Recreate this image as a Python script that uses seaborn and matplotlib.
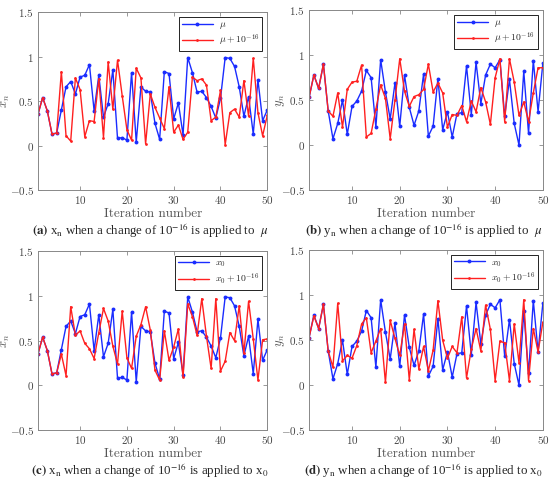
import numpy as np
import pandas as pd
import matplotlib
matplotlib.use("Agg")
import matplotlib.pyplot as plt
import seaborn as sns
from matplotlib.ticker import FuncFormatter

# iteration index 1..50
iterations = list(range(1, 51))

# x_n, unperturbed trajectory (same in panels a and c)
x_base = [0.35, 0.54, 0.39, 0.13, 0.14, 0.40, 0.66, 0.72, 0.58, 0.77,
          0.79, 0.91, 0.39, 0.79, 0.32, 0.47, 0.85, 0.08, 0.09, 0.06,
          0.82, 0.04, 0.66, 0.61, 0.60, 0.25, 0.07, 0.83, 0.81, 0.30,
          0.48, 0.12, 0.99, 0.82, 0.60, 0.61, 0.54, 0.44, 0.31, 0.53,
          0.99, 0.98, 0.89, 0.66, 0.33, 0.55, 0.13, 0.74, 0.28, 0.40]
# x_n when mu + 1e-16
x_mu = [0.35, 0.54, 0.39, 0.13, 0.14, 0.83, 0.11, 0.05, 0.76, 0.63,
        0.10, 0.28, 0.27, 0.75, 0.09, 0.94, 0.41, 0.96, 0.56, 0.18,
        0.06, 0.87, 0.76, 0.02, 0.58, 0.43, 0.31, 0.19, 0.66, 0.15,
        0.23, 0.07, 0.15, 0.77, 0.73, 0.75, 0.68, 0.28, 0.32, 0.62,
        0.01, 0.37, 0.41, 0.32, 0.73, 0.33, 0.98, 0.37, 0.11, 0.34]
# x_n when x0 + 1e-16
x_x0 = [0.35, 0.54, 0.39, 0.13, 0.14, 0.35, 0.11, 0.88, 0.56, 0.61,
        0.47, 0.41, 0.30, 0.59, 0.86, 0.72, 0.44, 0.24, 0.83, 0.31,
        0.19, 0.55, 0.68, 0.88, 0.62, 0.17, 0.06, 0.61, 0.28, 0.43,
        0.63, 0.09, 0.91, 0.77, 0.56, 0.97, 0.55, 0.19, 0.97, 0.16,
        0.27, 0.59, 0.50, 0.89, 0.36, 0.94, 0.52, 0.06, 0.51, 0.52]

# y_n, unperturbed trajectory (same in panels b and d)
y_base = [0.53, 0.78, 0.63, 0.90, 0.38, 0.07, 0.24, 0.50, 0.12, 0.43,
          0.49, 0.60, 0.83, 0.75, 0.20, 0.95, 0.59, 0.29, 0.69, 0.21,
          0.78, 0.42, 0.22, 0.38, 0.79, 0.10, 0.21, 0.74, 0.17, 0.37,
          0.09, 0.35, 0.36, 0.88, 0.34, 0.92, 0.46, 0.78, 0.90, 0.86,
          0.95, 0.32, 0.73, 0.24, 0.00, 0.82, 0.13, 0.94, 0.37, 0.91]
# y_n when mu + 1e-16
y_mu = [0.53, 0.78, 0.63, 0.90, 0.38, 0.32, 0.58, 0.20, 0.62, 0.70,
        0.71, 0.89, 0.09, 0.13, 0.40, 0.67, 0.52, 0.07, 0.50, 0.96,
        0.60, 0.43, 0.54, 0.56, 0.62, 0.90, 0.59, 0.69, 0.58, 0.20,
        0.34, 0.33, 0.44, 0.26, 0.49, 0.37, 0.64, 0.48, 0.23, 0.75,
        0.96, 0.26, 0.96, 0.70, 0.33, 0.48, 0.26, 0.58, 0.86, 0.86]
# y_n when x0 + 1e-16
y_x0 = [0.53, 0.77, 0.63, 0.90, 0.38, 0.20, 0.91, 0.27, 0.33, 0.30,
        0.44, 0.68, 0.75, 0.36, 0.49, 0.63, 0.03, 0.72, 0.52, 0.33,
        0.68, 0.06, 0.62, 0.18, 0.43, 0.16, 0.39, 0.94, 0.50, 0.30,
        0.43, 0.36, 0.76, 0.08, 0.40, 0.63, 0.38, 0.89, 0.62, 0.05,
        0.49, 0.47, 0.05, 0.68, 0.25, 0.95, 0.05, 0.63, 0.37, 0.70]

y_ticks = [-0.5, 0, 0.5, 1, 1.5]
x_ticks = [10, 20, 30, 40, 50]

panels = [
    # (axes rect, base, perturbed, ylabel, ylabel x, legend labels, caption tag, caption text)
    ([0.069, 0.609, 0.417, 0.366], x_base, x_mu, r"$x_n$", -0.115,
     [r"$\mu$", r"$\mu + 10^{-16}$"], "(a)",
     r"x$_\mathrm{n}$ when a change of 10$^{-16}$ is applied to  $\mu$"),
    ([0.562, 0.609, 0.425, 0.370], y_base, y_mu, r"$y_n$", -0.095,
     [r"$\mu$", r"$\mu + 10^{-16}$"], "(b)",
     r"y$_\mathrm{n}$ when a change of 10$^{-16}$ is applied to  $\mu$"),
    ([0.069, 0.115, 0.417, 0.368], x_base, x_x0, r"$x_n$", -0.115,
     [r"$x_0$", r"$x_0 + 10^{-16}$"], "(c)",
     r"x$_\mathrm{n}$ when a change of 10$^{-16}$ is applied to x$_\mathrm{0}$"),
    ([0.562, 0.115, 0.425, 0.370], y_base, y_x0, r"$y_n$", -0.095,
     [r"$x_0$", r"$x_0 + 10^{-16}$"], "(d)",
     r"y$_\mathrm{n}$ when a change of 10$^{-16}$ is applied to x$_\mathrm{0}$"),
]

sns.set_style("ticks")
plt.rcParams.update({
    "font.family": "serif",
    "font.serif": ["cmr10", "DejaVu Serif"],
    "mathtext.fontset": "cm",
    "xtick.direction": "in",
    "ytick.direction": "in",
    "xtick.top": True,
    "ytick.right": True,
    "axes.edgecolor": "#888888",
    "xtick.color": "#888888",
    "ytick.color": "#888888",
    "xtick.labelcolor": "#444444",
    "ytick.labelcolor": "#444444",
    "axes.linewidth": 0.7,
})

fig = plt.figure(figsize=(5.5, 4.86), dpi=100)
blue = "#1a2cff"
red = "#ff2020"

for rect, base, pert, ylab, ylab_x, labels, tag, caption in panels:
    ax = fig.add_axes(rect)
    df_base = pd.DataFrame({"n": iterations, "value": base})
    df_pert = pd.DataFrame({"n": iterations, "value": pert})
    sns.lineplot(data=df_base, x="n", y="value", color=blue, marker="o",
                 markersize=2.8, markeredgewidth=0, linewidth=1.0, ax=ax, label=labels[0])
    sns.lineplot(data=df_pert, x="n", y="value", color=red, marker="o",
                 markersize=2.0, markeredgewidth=0, linewidth=1.0, ax=ax, label=labels[1])
    ax.set_xlim(1, 50)
    ax.set_ylim(-0.5, 1.5)
    ax.set_xticks(x_ticks)
    ax.set_yticks(y_ticks)
    ax.yaxis.set_major_formatter(FuncFormatter(lambda v, p: f"${v:g}$"))
    ax.xaxis.set_major_formatter(FuncFormatter(lambda v, p: f"${v:g}$"))
    ax.tick_params(labelsize=8, length=3, width=0.6, pad=3)
    ax.set_xlabel("Iteration number", fontsize=9.5, color="#555555", labelpad=1)
    ax.set_ylabel(ylab, fontsize=9, color="#555555")
    ax.yaxis.set_label_coords(ylab_x, 0.5)
    for s in ax.spines.values():
        s.set_visible(True)
    leg = ax.legend(loc="upper right", fontsize=7, frameon=True, fancybox=False,
                    framealpha=1, edgecolor="black", handlelength=3.2,
                    borderpad=0.3, labelspacing=0.2, handletextpad=0.6)
    leg.get_frame().set_linewidth(0.6)

    # caption below the panel
    cx = rect[0] + rect[2] / 2 - 0.005
    cy = rect[1] - 0.083
    fig.text(cx, cy, r"$\mathbf{" + tag + "}$ " + caption, ha="center", va="center",
             fontsize=9.3, family="Liberation Serif", math_fontfamily="stix")

fig.savefig("out.png", dpi=100)
